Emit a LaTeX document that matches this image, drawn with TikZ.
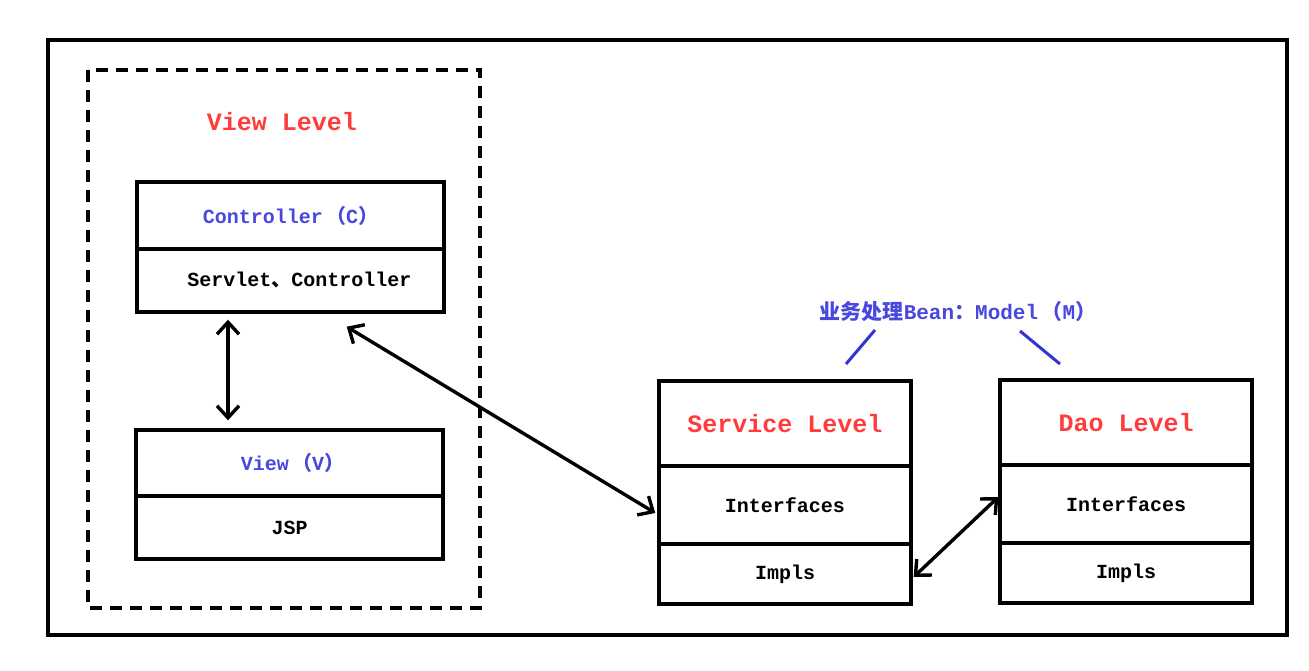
\documentclass[tikz,border=0pt]{standalone}
\usepackage{fontspec}
\setmainfont{Liberation Mono}
\newfontfamily\cjk{Noto Sans CJK SC}
\usetikzlibrary{arrows.meta,calc}
\definecolor{lvlred}{HTML}{FF3B3B}
\definecolor{mblue}{HTML}{4848E0}
\definecolor{lblue}{HTML}{3434D4}
\begin{document}
\begin{tikzpicture}[x=1pt,y=-1pt,
  thk/.style={line width=3.4pt},
  part/.style={draw,thk,rectangle,inner sep=0pt,font=\bfseries\fontsize{20}{22}\selectfont},
  headr/.style={part,text=lvlred,font=\bfseries\fontsize{25}{27}\selectfont},
  headb/.style={part,text=mblue,font=\bfseries\fontsize{20}{22}\selectfont},
  arr/.style={thk,{Straight Barb[length=12pt,width=22pt]}-{Straight Barb[length=12pt,width=22pt]}},
  blueline/.style={lblue,line width=3pt}]
\useasboundingbox (0,0) rectangle (1309,670);
\fill[white] (0,0) rectangle (1309,670);
% outer frame
\draw[thk] (48,40) rectangle (1287,635);
% dashed view-level frame
\draw[thk,dash pattern=on 12pt off 8pt] (88,70) rectangle (480,608);
\node[text=lvlred,font=\bfseries\fontsize{25}{27}\selectfont] (viewlvl) at (282,122) {View Level};
% controller box
\node[headb,minimum width=307pt,minimum height=67pt] (ctrlT) at (290.5,215.5) {Controller\,{\cjk （}C{\cjk ）}};
\node[part,minimum width=307pt,minimum height=63pt] (ctrlB) at (290.5,280.5) {\hspace{18pt}Servlet{\cjk 、}Controller};
% view box
\node[headb,minimum width=307pt,minimum height=66pt] (viewT) at (289.5,463) {\hspace{6pt}View\,{\cjk （}V{\cjk ）}};
\node[part,minimum width=307pt,minimum height=63pt] (viewB) at (289.5,527.5) {JSP};
% service box
\node[headr,minimum width=252pt,minimum height=85pt] (svcT) at (785,423.5) {Service Level};
\node[part,minimum width=252pt,minimum height=78pt] (svcI) at (785,505) {Interfaces};
\node[part,minimum width=252pt,minimum height=60pt] (svcM) at (785,574) {Impls};
% dao box
\node[headr,minimum width=252pt,minimum height=85pt] (daoT) at (1126,422.5) {Dao Level};
\node[part,minimum width=252pt,minimum height=78pt] (daoI) at (1126,504) {Interfaces};
\node[part,minimum width=252pt,minimum height=60pt] (daoM) at (1126,573) {Impls};
% model label
\node[text=mblue,font=\bfseries\fontsize{21}{23}\selectfont] (model) at (958,312) {{\cjk 业务处理}Bean{\cjk ：}Model\,{\cjk （}M{\cjk ）}};
\coordinate (m1a) at (875,330);
\coordinate (m1b) at (846,364);
\coordinate (m2a) at (1020,331);
\coordinate (m2b) at (1060,364);
\draw[blueline] (m1a) -- (m1b);
\draw[blueline] (m2a) -- (m2b);
% arrows
\draw[arr] ([xshift=-62.5pt,yshift=-6pt]ctrlB.south) -- ([xshift=-61.5pt,yshift=8pt]viewT.north);
\draw[arr] ([xshift=-99pt,yshift=-13pt]ctrlB.south east) -- ([xshift=-2pt,yshift=-8pt]svcI.west);
\draw[arr] ([xshift=1pt,yshift=-3pt]svcM.east) -- ([yshift=7pt]daoI.west);
\end{tikzpicture}
\end{document}
